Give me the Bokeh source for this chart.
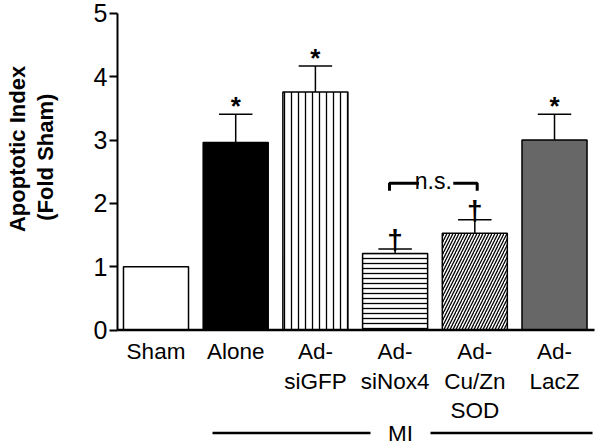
import math
from bokeh.plotting import figure
from bokeh.models import Range1d, FixedTicker, ColumnDataSource
from bokeh.core.properties import value
from bokeh.embed import file_html
from bokeh.resources import INLINE

# ---- data ----
categories = ["Sham", "Alone", "Ad-\nsiGFP", "Ad-\nsiNox4", "Ad-\nCu/Zn\nSOD", "Ad-\nLacZ"]
means = [1.00, 2.96, 3.76, 1.21, 1.53, 3.00]
sem = [0.0, 0.45, 0.41, 0.07, 0.21, 0.41]
marks = ["", "*", "*", "\u2020", "\u2020", "*"]
fills = ["white", "black", "white", "white", "white", "#676767"]
hatches = [" ", " ", "|", "-", "/", " "]
hatch_scales = [7, 7, 7, 5, 6, 7]
y_ticks = [0, 1, 2, 3, 4, 5]
group_label = "MI"
ns_label = "n.s."
y_label_1 = "Apoptotic Index"
y_label_2 = "(Fold Sham)"

FONT = "Liberation Sans"
xs = list(range(len(categories)))
upper = [m + s for m, s in zip(means, sem)]

X0, X1 = -1.951, 5.577      # visible x range (frame spans whole canvas)
Y0, Y1 = -1.84, 5.205
AXIS_X, AXIS_END = -0.483, 5.502

p = figure(width=600, height=446, output_backend="svg", toolbar_location=None,
           x_range=Range1d(X0, X1), y_range=Range1d(Y0, Y1),
           min_border_left=0, min_border_right=0, min_border_top=0, min_border_bottom=0)
p.outline_line_color = None
p.xgrid.visible = False
p.ygrid.visible = False
p.xaxis.visible = False
p.background_fill_color = "white"
p.border_fill_color = "white"

ya = p.yaxis[0]
ya.fixed_location = AXIS_X
ya.bounds = (0, 5)
ya.ticker = FixedTicker(ticks=y_ticks)
ya.minor_tick_line_color = None
ya.major_tick_out = 8
ya.major_tick_in = 0
ya.axis_line_width = 2
ya.major_tick_line_width = 2
ya.major_label_text_font = FONT
ya.major_label_text_font_size = "25px"
ya.major_label_text_color = "black"
ya.major_label_standoff = 2
ya.axis_line_color = "black"

src = ColumnDataSource(dict(x=xs, top=means, fill=fills, hatch=hatches, hs=hatch_scales))
p.vbar(x="x", top="top", bottom=0, width=0.816, source=src, fill_color="fill",
       line_color="black", line_width=1.5, hatch_pattern="hatch", hatch_color="black",
       hatch_scale="hs", hatch_weight=1.3)

# x axis line
p.segment(x0=[AXIS_X], y0=[0], x1=[AXIS_END], y1=[0], line_color="black", line_width=2.5)

# error bars
eb_x = [x for x, s in zip(xs, sem) if s > 0]
eb_lo = [m for m, s in zip(means, sem) if s > 0]
eb_hi = [u for u, s in zip(upper, sem) if s > 0]
p.segment(x0=eb_x, y0=eb_lo, x1=eb_x, y1=eb_hi, line_color="black", line_width=1.5)
p.segment(x0=[x - 0.21 for x in eb_x], y0=eb_hi, x1=[x + 0.21 for x in eb_x], y1=eb_hi,
          line_color="black", line_width=1.5)

# significance marks
star_x = [x for x, m in zip(xs, marks) if m == "*"]
star_y = [u for u, m in zip(upper, marks) if m == "*"]
p.text(x=star_x, y=star_y, text=["*"] * len(star_x), text_font=value(FONT),
       text_font_size="26px", text_font_style="bold", text_align="center",
       text_baseline="alphabetic", y_offset=-8, text_color="black")
dag_x = [x for x, m in zip(xs, marks) if m == "\u2020"]
dag_y = [u for u, m in zip(upper, marks) if m == "\u2020"]
p.text(x=dag_x, y=dag_y, text=["\u2020"] * len(dag_x), text_font=value(FONT),
       text_font_size="28px", text_font_style="bold", text_align="center",
       text_baseline="alphabetic", y_offset=-9, text_color="black")

# n.s. bracket
bx0, bx1 = 3 - 0.07, 4 + 0.03
by, byl = 2.32, 2.20
p.line(x=[bx0, bx0, 3.30], y=[byl, by, by], line_color="black", line_width=3)
p.line(x=[3.73, bx1, bx1], y=[by, by, byl], line_color="black", line_width=3)
p.text(x=[(bx0 + bx1) / 2], y=[by], text=[ns_label], text_font=value(FONT),
       text_font_size="23px", text_align="center", text_baseline="middle",
       y_offset=-2, text_color="black")

# category labels
p.text(x=xs, y=[0] * len(xs), text=categories, text_font=value(FONT),
       text_font_size="22.5px", text_align="center", text_baseline="top",
       y_offset=9, text_line_height=1.18, text_color="black")

# MI group
p.segment(x0=[0.709, 3.444], y0=[-1.627, -1.627], x1=[2.691, 5.477], y1=[-1.627, -1.627],
          line_color="black", line_width=2.5)
p.text(x=[3.068], y=[-1.627], text=[group_label], text_font=value(FONT),
       text_font_size="22.5px", text_align="center", text_baseline="middle",
       text_color="black")

# y axis label (two rotated lines)
p.text(x=[-1.738, -1.386], y=[2.86, 2.73], text=[y_label_1, y_label_2],
       angle=math.pi / 2, text_font=value(FONT), text_font_size="22px",
       text_font_style="bold", text_align="center", text_baseline="middle",
       text_color="black")

open("out.html", "w").write(file_html(p, INLINE))
